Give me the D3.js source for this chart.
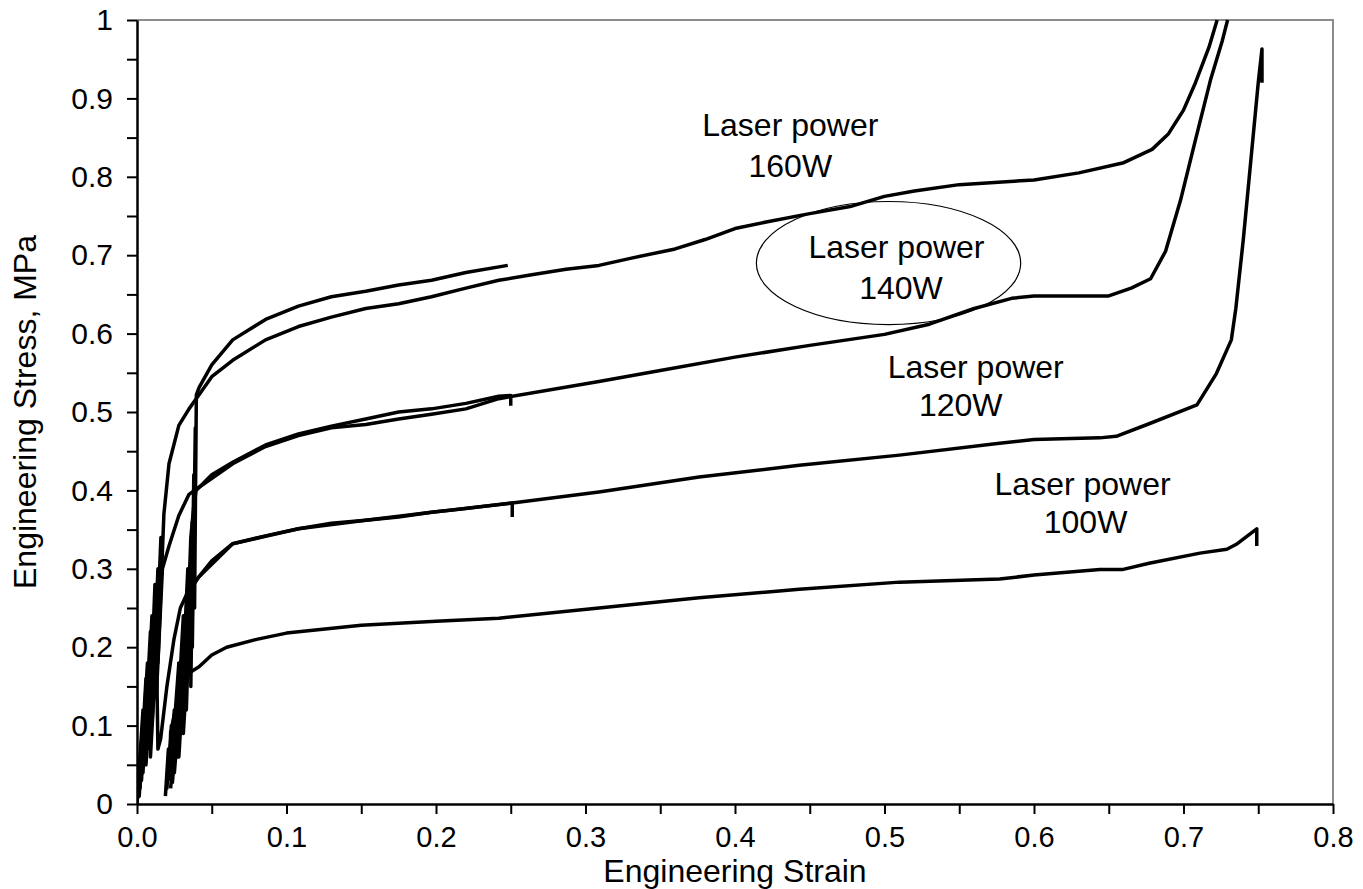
<!DOCTYPE html>
<html>
<head>
<meta charset="utf-8">
<script src="https://cdn.jsdelivr.net/npm/d3@7"></script>
<style>
  body { margin: 0; background: #fff; }
  svg { display: block; font-family: "Liberation Sans", Arial, sans-serif; }
</style>
</head>
<body>
<div id="chart"></div>
<script>
// tick labels
var xTickValues = [0, 0.1, 0.2, 0.3, 0.4, 0.5, 0.6, 0.7, 0.8];
var xTickLabels = ["0.0", "0.1", "0.2", "0.3", "0.4", "0.5", "0.6", "0.7", "0.8"];
var yTickValues = [0, 0.1, 0.2, 0.3, 0.4, 0.5, 0.6, 0.7, 0.8, 0.9, 1];
var yTickLabels = ["0", "0.1", "0.2", "0.3", "0.4", "0.5", "0.6", "0.7", "0.8", "0.9", "1"];

// [strain, stress] (the early zigzags are the load/unload cycles)
var power160a = [[0,0],[0.004,0.12],[0.002,0.02],[0.007,0.18],[0.005,0.05],[0.01,0.24],[0.008,0.08],
  [0.012,0.28],[0.01,0.12],[0.014,0.3],[0.012,0.15],[0.016,0.34],[0.014,0.18],[0.018,0.37],
  [0.0214,0.434],[0.028,0.483],[0.0348,0.504],
  [0.0415,0.522],[0.05,0.545],[0.064,0.566],[0.086,0.592],[0.108,0.609],[0.13,0.621],[0.153,0.632],
  [0.175,0.638],[0.197,0.647],[0.22,0.658],[0.242,0.668],[0.264,0.675],[0.287,0.682],[0.309,0.687],
  [0.33,0.696],[0.36,0.708],[0.38,0.72],[0.4,0.734],[0.42,0.742],[0.45,0.753],[0.477,0.762],
  [0.5,0.775],[0.52,0.782],[0.55,0.79],[0.6,0.796],[0.63,0.805],[0.66,0.818],[0.679,0.835],
  [0.69,0.855],[0.70,0.885],[0.708,0.92],[0.717,0.965],[0.7225,1.0]];
var power160b = [[0.0225,0.02],[0.026,0.1],[0.024,0.04],[0.029,0.16],[0.027,0.06],[0.032,0.22],
  [0.03,0.09],[0.035,0.3],[0.033,0.12],[0.037,0.36],[0.036,0.15],[0.038,0.42],[0.037,0.2],
  [0.039,0.48],[0.0385,0.25],[0.0397,0.522],[0.0415,0.531],
  [0.05,0.56],[0.064,0.592],[0.086,0.618],[0.108,0.635],[0.13,0.647],[0.153,0.654],[0.175,0.662],
  [0.197,0.668],[0.22,0.678],[0.248,0.687]];
var power140a = [[0,0],[0.003,0.08],[0.0015,0.01],[0.006,0.16],[0.004,0.04],[0.009,0.22],[0.007,0.07],
  [0.012,0.25],[0.01,0.1],[0.015,0.28],[0.013,0.14],[0.017,0.3],[0.0214,0.329],[0.028,0.368],
  [0.0348,0.395],[0.0415,0.404],
  [0.064,0.434],[0.086,0.456],[0.108,0.47],[0.13,0.48],[0.153,0.484],[0.175,0.491],[0.197,0.497],
  [0.22,0.504],[0.242,0.517],[0.309,0.539],[0.35,0.553],[0.4,0.57],[0.45,0.585],[0.5,0.599],
  [0.53,0.612],[0.56,0.632],[0.585,0.645],[0.6,0.648],[0.65,0.648],[0.665,0.658],[0.678,0.67],
  [0.688,0.705],[0.698,0.77],[0.708,0.847],[0.718,0.923],[0.726,0.974],[0.7295,1.0]];
var power140b = [[0.021,0.03],[0.025,0.12],[0.023,0.05],[0.028,0.18],[0.026,0.07],[0.031,0.24],
  [0.029,0.1],[0.034,0.3],[0.032,0.13],[0.036,0.34],[0.038,0.38],[0.0395,0.40],
  [0.05,0.42],[0.064,0.436],[0.086,0.458],[0.108,0.472],[0.13,0.482],[0.153,0.491],[0.175,0.5],
  [0.197,0.504],[0.22,0.511],[0.242,0.52],[0.25,0.521],[0.25,0.508]];
var power120a = [[0,0],[0.002,0.06],[0.001,0.01],[0.005,0.12],[0.003,0.03],[0.008,0.18],
  [0.006,0.05],[0.011,0.2],[0.009,0.06],[0.013,0.2],[0.014,0.07],[0.0158,0.083],[0.02,0.15],
  [0.0248,0.211],[0.029,0.25],[0.035,0.275],[0.0415,0.29],[0.05,0.31],
  [0.064,0.332],[0.086,0.342],[0.108,0.351],[0.13,0.358],[0.153,0.362],[0.175,0.366],[0.197,0.372],
  [0.22,0.377],[0.251,0.384],[0.309,0.398],[0.376,0.417],[0.443,0.432],[0.51,0.445],[0.577,0.46],
  [0.6,0.465],[0.644,0.467],[0.655,0.469],[0.677,0.485],[0.709,0.509],[0.722,0.549],[0.732,0.592],
  [0.735,0.632],[0.74,0.72],[0.745,0.82],[0.75,0.92],[0.7525,0.963],[0.7525,0.92]];
var power120b = [[0.0236,0.026],[0.027,0.1],[0.025,0.04],[0.03,0.16],[0.028,0.06],[0.033,0.22],
  [0.031,0.09],[0.036,0.25],[0.038,0.28],[0.0415,0.29],
  [0.064,0.332],[0.108,0.351],[0.153,0.362],[0.197,0.372],[0.251,0.384],[0.251,0.366]];
var power100 = [[0.019,0.01],[0.021,0.07],[0.02,0.02],[0.023,0.1],[0.022,0.05],[0.0225,0.092],
  [0.028,0.14],[0.0348,0.167],[0.0415,0.175],[0.05,0.19],[0.06,0.2],[0.08,0.21],[0.1,0.218],
  [0.15,0.228],[0.2,0.233],[0.242,0.237],[0.309,0.25],[0.376,0.263],[0.443,0.274],[0.51,0.283],
  [0.577,0.287],[0.6,0.292],[0.644,0.299],[0.659,0.299],[0.677,0.307],[0.711,0.32],[0.729,0.325],
  [0.736,0.332],[0.749,0.351],[0.749,0.329]];

var curves = [power100, power120a, power120b, power140a, power140b, power160a, power160b];

// annotation text, anchored at the baseline centre
var labelLines = [
  { text: "Laser power", x: 0.437, y: 0.852 },
  { text: "160W", x: 0.437, y: 0.8 },
  { text: "Laser power", x: 0.508, y: 0.696 },
  { text: "140W", x: 0.511, y: 0.644 },
  { text: "Laser power", x: 0.561, y: 0.543 },
  { text: "120W", x: 0.551, y: 0.495 },
  { text: "Laser power", x: 0.6325, y: 0.394 },
  { text: "100W", x: 0.6345, y: 0.3457 }
];

var width = 1363, height = 889;
var margin = { top: 20, left: 137, bottom: 85, right: 30 };

var svg = d3.select("#chart").append("svg")
  .attr("width", width).attr("height", height);

var x = d3.scaleLinear().domain([0, 0.8]).range([margin.left, width - margin.right]);
var y = d3.scaleLinear().domain([0, 1]).range([height - margin.bottom, margin.top]);

svg.append("clipPath").attr("id", "plot-clip")
  .append("rect")
  .attr("x", x(0)).attr("y", y(1) - 1)
  .attr("width", x(0.8) - x(0)).attr("height", y(0) - y(1) + 1);

// plot area frame (grey top and right)
svg.append("path")
  .attr("d", `M${x(0)},${y(1)}H${x(0.8)}V${y(0)}`)
  .attr("fill", "none")
  .attr("stroke", "#8c8c8c")
  .attr("stroke-width", 2);

var line = d3.line().x((d) => x(d[0])).y((d) => y(d[1]));

svg.append("g")
  .attr("clip-path", "url(#plot-clip)")
  .selectAll("path")
  .data(curves)
  .enter()
  .append("path")
  .attr("d", line)
  .attr("fill", "none")
  .attr("stroke", "#000")
  .attr("stroke-width", 3.5)
  .attr("stroke-linejoin", "round");

// ellipse round the 140W label
svg.append("ellipse")
  .attr("cx", x(0.5027)).attr("cy", y(0.69))
  .attr("rx", x(0.0884) - x(0)).attr("ry", y(0) - y(0.0785))
  .attr("fill", "none").attr("stroke", "#000").attr("stroke-width", 1.2);

svg.append("g")
  .selectAll("text")
  .data(labelLines)
  .enter()
  .append("text")
  .attr("x", (d) => x(d.x))
  .attr("y", (d) => y(d.y))
  .attr("text-anchor", "middle")
  .attr("font-size", 32)
  .text((d) => d.text);

// axes: major ticks labelled, minor ticks at the halves
var xAll = d3.range(0, 0.8001, 0.05);
var yAll = d3.range(0, 1.0001, 0.05);

var xAxis = svg.append("g")
  .attr("transform", `translate(0,${y(0)})`)
  .call(d3.axisBottom(x).tickValues(xAll).tickSize(10).tickPadding(12).tickSizeOuter(0)
    .tickFormat((d) => {
      var i = xTickValues.findIndex((v) => Math.abs(v - d) < 1e-6);
      return i < 0 ? "" : xTickLabels[i];
    }));

var yAxis = svg.append("g")
  .attr("transform", `translate(${x(0)},0)`)
  .call(d3.axisLeft(y).tickValues(yAll).tickSize(10).tickPadding(14).tickSizeOuter(0)
    .tickFormat((d) => {
      var i = yTickValues.findIndex((v) => Math.abs(v - d) < 1e-6);
      return i < 0 ? "" : yTickLabels[i];
    }));

[xAxis, yAxis].forEach((g) => {
  g.select(".domain").attr("stroke", "#000").attr("stroke-width", 2.5);
  g.selectAll(".tick line").attr("stroke", "#000").attr("stroke-width", 2);
  g.selectAll(".tick text").attr("fill", "#000")
    .attr("font-family", "'Liberation Sans', Arial, sans-serif");
});
xAxis.selectAll(".tick text").attr("font-size", 29);
yAxis.selectAll(".tick text").attr("font-size", 30);

svg.append("text")
  .attr("x", (x(0) + x(0.8)) / 2)
  .attr("y", 882)
  .attr("text-anchor", "middle")
  .attr("font-size", 32)
  .text("Engineering Strain");

svg.append("text")
  .attr("transform", `translate(36,${(y(0) + y(1)) / 2}) rotate(-90)`)
  .attr("text-anchor", "middle")
  .attr("font-size", 32)
  .text("Engineering Stress, MPa");
</script>
</body>
</html>
